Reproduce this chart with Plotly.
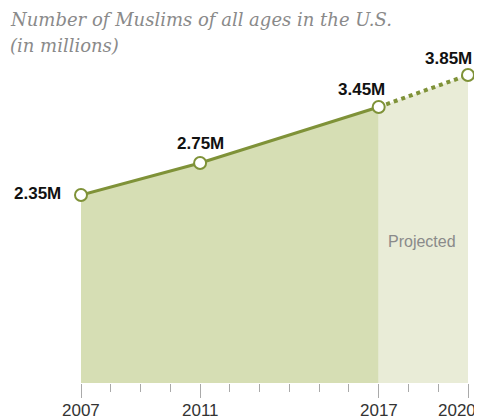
import plotly.graph_objects as go

years_actual = [2007, 2011, 2017]
values_actual = [2.35, 2.75, 3.45]
years_proj = [2017, 2020]
values_proj = [3.45, 3.85]
label_years = [2007, 2011, 2017, 2020]
label_values = [2.35, 2.75, 3.45, 3.85]
labels = ["2.35M", "2.75M", "3.45M", "3.85M"]
tick_years = [2007, 2011, 2017, 2020]
tick_text = ["2007", "2011", "2017", "2020"]

LINE = "#7f9238"
FILL = "#d6deb4"
FILL_PROJ = "#e9ecd7"
SANS = "Liberation Sans, Arial"

fig = go.Figure()
fig.add_trace(go.Scatter(x=years_actual, y=values_actual, mode="lines", fill="tozeroy",
                         fillcolor=FILL, line=dict(color=LINE, width=3), hoverinfo="skip"))
fig.add_trace(go.Scatter(x=years_proj, y=values_proj, mode="lines", fill="tozeroy",
                         fillcolor=FILL_PROJ, line=dict(color=LINE, width=4, dash="dot"), hoverinfo="skip"))
fig.add_trace(go.Scatter(x=label_years, y=label_values, mode="markers", cliponaxis=False,
                         marker=dict(size=12, color="white", line=dict(color=LINE, width=2)),
                         hoverinfo="skip"))

# value labels (xshift, yshift in px)
offsets = [(-44, 2), (0, 20), (-17, 18), (-20, 17)]
for yr, v, t, (dx, dy) in zip(label_years, label_values, labels, offsets):
    fig.add_annotation(x=yr, y=v, text="<b>" + t + "</b>", showarrow=False,
                       xshift=dx, yshift=dy, font=dict(family=SANS, size=17, color="#111"))

# x tick labels (placed as annotations so the last one can sit inside the edge)
tick_shift = [0, 0, 0, -11]
for yr, t, dx in zip(tick_years, tick_text, tick_shift):
    fig.add_annotation(x=yr, y=0, xref="x", yref="paper", text=t, showarrow=False,
                       yanchor="middle", xshift=dx, yshift=-27,
                       font=dict(family=SANS, size=17, color="#333"))

fig.add_annotation(x=2018.45, y=1.77, text="Projected", showarrow=False,
                   font=dict(family=SANS, size=16, color="#8a8a8a"))

fig.add_annotation(xref="paper", yref="paper", x=-73/387, y=1 + 44/320, xanchor="left", yanchor="middle",
                   text="<i>Number of Muslims of all ages in the U.S.</i>", showarrow=False,
                   font=dict(family="DejaVu Serif", size=18, color="#8a8a8a"))
fig.add_annotation(xref="paper", yref="paper", x=-73/387, y=1 + 18/320, xanchor="left", yanchor="middle",
                   text="<i>(in millions)</i>", showarrow=False,
                   font=dict(family="DejaVu Serif", size=18, color="#8a8a8a"))

fig.update_layout(
    width=474, height=412, margin=dict(l=73, r=14, t=55, b=37),
    paper_bgcolor="white", plot_bgcolor="white", showlegend=False,
    xaxis=dict(range=[2007, 2020], tickvals=tick_years, showticklabels=False, ticks="outside",
               ticklen=14, tickcolor="#aaaaaa", tickwidth=1, showgrid=False, zeroline=False,
               showline=False, automargin=False,
               minor=dict(dtick=1, tick0=2007, ticks="outside", ticklen=8, tickcolor="#aaaaaa", showgrid=False)),
    yaxis=dict(range=[0, 4.0], visible=False, showgrid=False, zeroline=False, automargin=False),
)

fig.write_html("out.html")
